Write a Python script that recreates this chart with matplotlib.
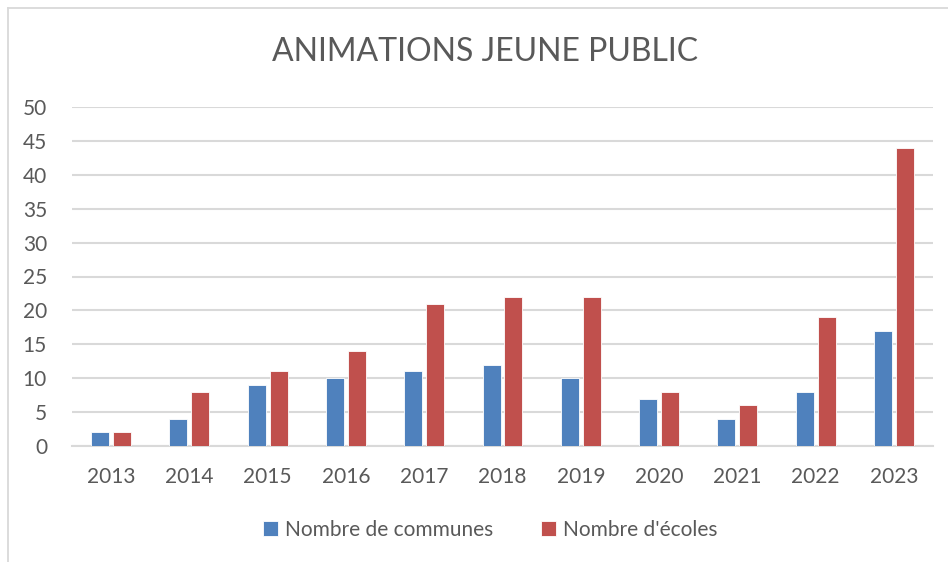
import matplotlib
matplotlib.use("Agg")
import matplotlib.pyplot as plt
import numpy as np
from matplotlib.lines import Line2D

plt.rcParams['font.family'] = ['Lato', 'DejaVu Sans']

years = ['2013', '2014', '2015', '2016', '2017', '2018', '2019', '2020', '2021', '2022', '2023']
communes = [2, 4, 9, 10, 11, 12, 10, 7, 4, 8, 17]
ecoles = [2, 8, 11, 14, 21, 22, 22, 8, 6, 19, 44]
series_names = ['Nombre de communes', "Nombre d'écoles"]
title = 'ANIMATIONS JEUNE PUBLIC'
yticks = [0, 5, 10, 15, 20, 25, 30, 35, 40, 45, 50]

blue = '#4F81BD'
red = '#C0504D'
text_col = '#595959'
grid_col = '#D9D9D9'

W, H = 948, 562
fig = plt.figure(figsize=(W / 100, H / 100), dpi=100)
fig.patch.set_facecolor('white')

# outer chart frame (cropped at right and bottom)
fig.add_artist(Line2D([8 / W, 8 / W], [0, 1 - 8 / H], transform=fig.transFigure, color='#D9D9D9', lw=1.3))
fig.add_artist(Line2D([8 / W, 1], [1 - 8 / H, 1 - 8 / H], transform=fig.transFigure, color='#D9D9D9', lw=1.3))

ax = fig.add_axes([72 / W, 1 - 446 / H, (933 - 72) / W, (446 - 107) / H])
x = np.arange(len(years))
bw = 0.23
gap = 0.05
ax.bar(x - (bw + gap) / 2, communes, width=bw, color=blue, edgecolor='white', linewidth=0.6, zorder=3, label=series_names[0])
ax.bar(x + (bw + gap) / 2, ecoles, width=bw, color=red, edgecolor='white', linewidth=0.6, zorder=3, label=series_names[1])

ax.set_xlim(-0.5, len(years) - 0.5)
ax.set_ylim(0, 50)
ax.set_yticks(yticks)
ax.set_yticklabels([str(v) for v in yticks])
ax.set_xticks(x)
ax.set_xticklabels(years)
ax.yaxis.grid(True, color=grid_col, linewidth=1.5, zorder=0)
ax.set_axisbelow(True)
for s in ['top', 'right', 'left']:
    ax.spines[s].set_visible(False)
ax.spines['bottom'].set_color(grid_col)
ax.spines['bottom'].set_linewidth(1.5)
ax.tick_params(axis='both', length=0, labelsize=15, colors=text_col)
ax.tick_params(axis='y', pad=18)
ax.tick_params(axis='x', pad=15)

fig.text(485 / W, 1 - 52 / H, title, ha='center', va='center', fontsize=23, color=text_col)

leg = fig.legend(loc='center', bbox_to_anchor=(490 / W, 1 - 530 / H), ncol=2, frameon=False,
                 fontsize=15, handlelength=0.75, handleheight=0.75, handletextpad=0.3,
                 columnspacing=2.3, labelcolor=text_col)

fig.savefig('out.png', dpi=100, facecolor='white')
